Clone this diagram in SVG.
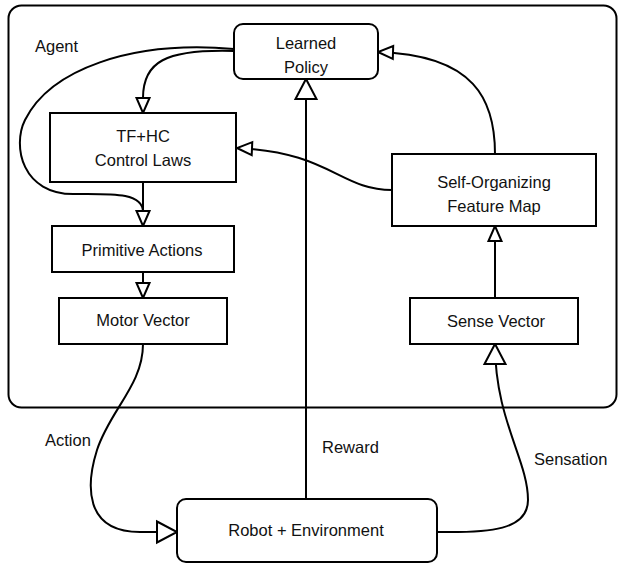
<svg xmlns="http://www.w3.org/2000/svg" width="618" height="563" viewBox="0 0 618 563">
  <style>
    .box { fill: #fff; stroke: #000; stroke-width: 2; }
    .frame { fill: none; stroke: #000; stroke-width: 2; }
    .lbl { font-family: "Liberation Sans", Arial, sans-serif; font-size: 16.5px; fill: #111; text-anchor: middle; }
    .note { font-family: "Liberation Sans", Arial, sans-serif; font-size: 16.5px; fill: #111; }
    .wire { fill: none; stroke: #000; stroke-width: 2; }
    .head { fill: #fff; stroke: #000; stroke-width: 2; stroke-linejoin: miter; }
  </style>
  <defs>
    <marker id="arrowSmall" markerUnits="userSpaceOnUse" viewBox="0 0 16 14" refX="15" refY="7" markerWidth="16" markerHeight="14" orient="auto" overflow="visible">
      <path class="head" d="M0,0.5 L15,7 L0,13.5 Z"/>
    </marker>
    <marker id="arrowBig" markerUnits="userSpaceOnUse" viewBox="0 0 21 22" refX="20" refY="11" markerWidth="21" markerHeight="22" orient="auto" overflow="visible">
      <path class="head" d="M0,0.5 L20,11 L0,21.5 Z"/>
    </marker>
  </defs>

  <rect width="618" height="563" fill="#fff"/>

  <!-- agent boundary -->
  <g id="agent">
    <rect class="frame" x="8.5" y="5.5" width="608" height="402" rx="13"/>
    <text class="note" x="35" y="52">Agent</text>
  </g>

  <!-- connectors -->
  <g id="connectors">
    <!-- policy to control laws -->
    <path class="wire" d="M234,51 C165,49 143,62 143,98 L143,113" marker-end="url(#arrowSmall)"/>
    <!-- policy to primitive actions (outer loop) -->
    <path class="wire" d="M234,49 C130,40 50,70 25,120 C12,146 22,195 75,194 C110,194 143,192 143,212"/>
    <!-- control laws to primitive actions -->
    <path class="wire" d="M143,182 L143,226" marker-end="url(#arrowSmall)"/>
    <!-- primitive actions to motor vector -->
    <path class="wire" d="M143,272 L143,298" marker-end="url(#arrowSmall)"/>
    <!-- feature map to control laws -->
    <path class="wire" d="M392,190 C340,190 330,152 237,148" marker-end="url(#arrowSmall)"/>
    <!-- feature map to policy -->
    <path class="wire" d="M495,154 C495,100 475,55 378,52" marker-end="url(#arrowSmall)"/>
    <!-- sense vector to feature map -->
    <path class="wire" d="M495,298 L495,226" marker-end="url(#arrowSmall)"/>
    <!-- reward -->
    <path class="wire" d="M306,499 L306,79" marker-end="url(#arrowBig)"/>
    <!-- action -->
    <path class="wire" d="M143,344 C143,385 110,410 97,450 C86,485 84,532 140,532 L177,532" marker-end="url(#arrowBig)"/>
    <!-- sensation -->
    <path class="wire" d="M437,532 C490,533 528,530 528,500 C528,460 495,420 495,344" marker-end="url(#arrowBig)"/>
    <text class="note" x="45" y="446">Action</text>
    <text class="note" x="322" y="453">Reward</text>
    <text class="note" x="534" y="465">Sensation</text>
  </g>

  <g id="learned-policy">
    <rect class="box" x="234" y="24" width="144" height="55" rx="9"/>
    <text class="lbl" x="306" y="49">Learned</text>
    <text class="lbl" x="306" y="73">Policy</text>
  </g>

  <g id="control-laws">
    <rect class="box" x="50" y="113" width="186" height="69"/>
    <text class="lbl" x="143" y="142">TF+HC</text>
    <text class="lbl" x="143" y="166">Control Laws</text>
  </g>

  <g id="primitive-actions">
    <rect class="box" x="52" y="226" width="182" height="46"/>
    <text class="lbl" x="142" y="256">Primitive Actions</text>
  </g>

  <g id="motor-vector">
    <rect class="box" x="59" y="298" width="168" height="46"/>
    <text class="lbl" x="143" y="326">Motor Vector</text>
  </g>

  <g id="feature-map">
    <rect class="box" x="392" y="154" width="204" height="72"/>
    <text class="lbl" x="494" y="188">Self-Organizing</text>
    <text class="lbl" x="494" y="212">Feature Map</text>
  </g>

  <g id="sense-vector">
    <rect class="box" x="410" y="298" width="168" height="46"/>
    <text class="lbl" x="496" y="327">Sense Vector</text>
  </g>

  <g id="robot-environment">
    <rect class="box" x="177" y="499" width="260" height="63" rx="9"/>
    <text class="lbl" x="306" y="536">Robot + Environment</text>
  </g>
</svg>
